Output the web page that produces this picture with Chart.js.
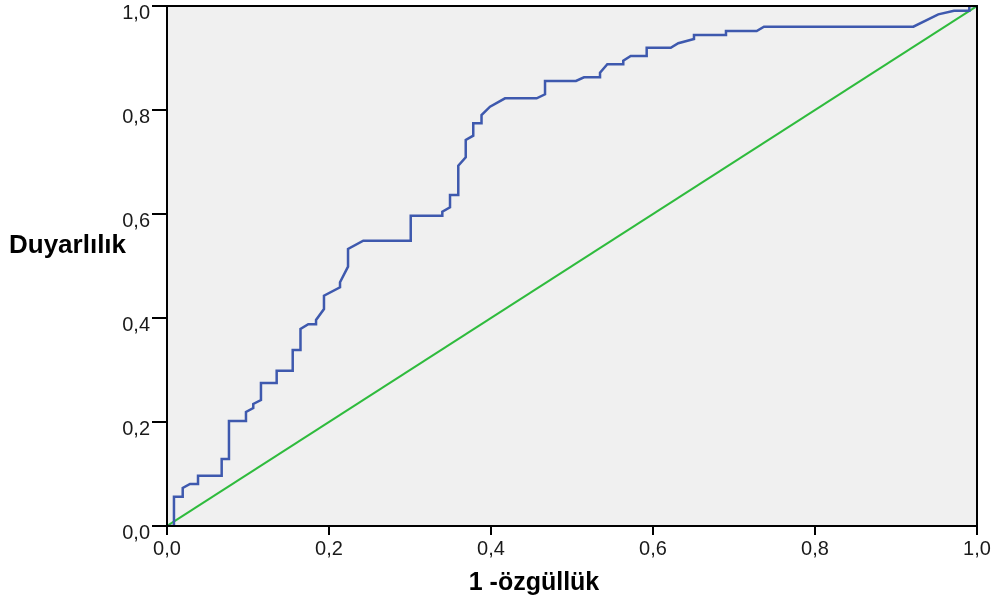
<!DOCTYPE html>
<html>
<head>
<meta charset="utf-8">
<script src="https://cdn.jsdelivr.net/npm/chart.js@4.4.0/dist/chart.umd.min.js"></script>
<style>
  body { margin: 0; background: #fff; }
  #wrap { width: 997px; height: 602px; position: relative; }
</style>
</head>
<body>
<div id="wrap"><canvas id="rocChart" width="997" height="602"></canvas></div>
<script>
// ROC curve points (1 - specificity, sensitivity)
const fprValues = [0, 0.0086, 0.0086, 0.0194, 0.0194, 0.0284, 0.0383, 0.0383, 0.0675, 0.0675,
  0.0765, 0.0765, 0.0975, 0.0975, 0.1065, 0.1065, 0.1160, 0.1160, 0.1354, 0.1354,
  0.1552, 0.1552, 0.1648, 0.1648, 0.1744, 0.1840, 0.1840, 0.1938, 0.1938, 0.2136,
  0.2136, 0.2235, 0.2235, 0.2423, 0.3009, 0.3009, 0.3399, 0.3399, 0.3494, 0.3494,
  0.3596, 0.3596, 0.3688, 0.3688, 0.3781, 0.3781, 0.3883, 0.3883, 0.3988, 0.4173,
  0.4564, 0.4667, 0.4667, 0.5049, 0.5148, 0.5346, 0.5346, 0.5436, 0.5633, 0.5633,
  0.5725, 0.5922, 0.5922, 0.6219, 0.6312, 0.6506, 0.6506, 0.6901, 0.6901, 0.7280,
  0.7370, 0.9214, 0.9522, 0.9716, 0.9905, 0.9905, 1]
const tprValues = [0, 0, 0.0563, 0.0563, 0.0731, 0.0808, 0.0808, 0.0967, 0.0967, 0.1288,
  0.1288, 0.2019, 0.2019, 0.2192, 0.2269, 0.2346, 0.2423, 0.2750, 0.2750, 0.2987,
  0.2987, 0.3385, 0.3385, 0.3788, 0.3879, 0.3879, 0.3962, 0.4173, 0.4429, 0.4590,
  0.4687, 0.4987, 0.5327, 0.5487, 0.5487, 0.5967, 0.5967, 0.6044, 0.6129, 0.6365,
  0.6365, 0.6929, 0.7090, 0.7423, 0.7506, 0.7744, 0.7744, 0.7904, 0.8063, 0.8225,
  0.8225, 0.8302, 0.8558, 0.8558, 0.8629, 0.8629, 0.8717, 0.8879, 0.8879, 0.8948,
  0.9038, 0.9038, 0.9198, 0.9198, 0.9283, 0.9365, 0.9442, 0.9442, 0.9519, 0.9519,
  0.9602, 0.9602, 0.9840, 0.9910, 0.9910, 1, 1]

// reference diagonal
const refX = [0, 1]
const refY = [0, 1]

const tickLabels = ['0,0', '0,2', '0,4', '0,6', '0,8', '1,0']
const xTitle = '1 -özgüllük'
const yTitle = 'Duyarlılık'

function toPoints(xs, ys){
  return xs.map((x, i) => ({x: x, y: ys[i]}))
}

function tickText(value){
  let idx = Math.round(value / 0.2)
  return tickLabels[idx] !== undefined ? tickLabels[idx] : ''
}

const frame = {
  id: 'frame',
  beforeDraw(chart){
    const a = chart.chartArea
    const ctx = chart.ctx
    ctx.save()
    ctx.fillStyle = '#f0f0f0'
    ctx.fillRect(a.left, a.top, a.right - a.left, a.bottom - a.top)
    ctx.restore()
  },
  afterDraw(chart){
    const a = chart.chartArea
    const ctx = chart.ctx
    ctx.save()
    ctx.strokeStyle = '#000'
    ctx.lineWidth = 2
    ctx.strokeRect(a.left, a.top, a.right - a.left, a.bottom - a.top)
    ctx.fillStyle = '#000'
    ctx.font = 'bold 26px "Liberation Sans", Arial, sans-serif'
    ctx.textBaseline = 'alphabetic'
    ctx.textAlign = 'left'
    ctx.fillText(yTitle, 9, 253)
    ctx.font = 'bold 25px "Liberation Sans", Arial, sans-serif'
    ctx.textAlign = 'center'
    ctx.fillText(xTitle, 534, 590)
    ctx.restore()
  }
}

const tickFont = {family: '"Liberation Sans", Arial, sans-serif', size: 20}

new Chart(document.getElementById('rocChart'), {
  type: 'scatter',
  data: {
    datasets: [
      {
        label: 'ROC',
        data: toPoints(fprValues, tprValues),
        showLine: true,
        borderColor: '#3e59ae',
        borderWidth: 2.5,
        pointRadius: 0,
        fill: false,
        tension: 0
      },
      {
        label: 'Referans',
        data: toPoints(refX, refY),
        showLine: true,
        borderColor: '#2fbb3d',
        borderWidth: 2,
        pointRadius: 0,
        fill: false
      }
    ]
  },
  options: {
    responsive: false,
    animation: false,
    layout: {padding: {top: 6, right: 20, left: 0, bottom: 0}},
    plugins: {legend: {display: false}, tooltip: {enabled: false}},
    scales: {
      x: {
        type: 'linear', min: 0, max: 1,
        border: {color: '#000', width: 2},
        grid: {drawOnChartArea: false, tickLength: 9, color: '#000', lineWidth: 2},
        ticks: {stepSize: 0.2, color: '#1a1a1a', font: tickFont, padding: 2, maxRotation: 0,
          callback: (v) => tickText(v)},
        afterFit: (s) => { s.height = 76; s.paddingLeft = 0; s.paddingRight = 0 }
      },
      y: {
        type: 'linear', min: 0, max: 1,
        border: {color: '#000', width: 2},
        grid: {drawOnChartArea: false, tickLength: 15, color: '#000', lineWidth: 2},
        ticks: {stepSize: 0.2, color: '#1a1a1a', font: tickFont, padding: 2, labelOffset: 7,
          callback: (v) => tickText(v)},
        afterFit: (s) => { s.width = 167; s.paddingTop = 0; s.paddingBottom = 0 }
      }
    }
  },
  plugins: [frame]
})
</script>
</body>
</html>
